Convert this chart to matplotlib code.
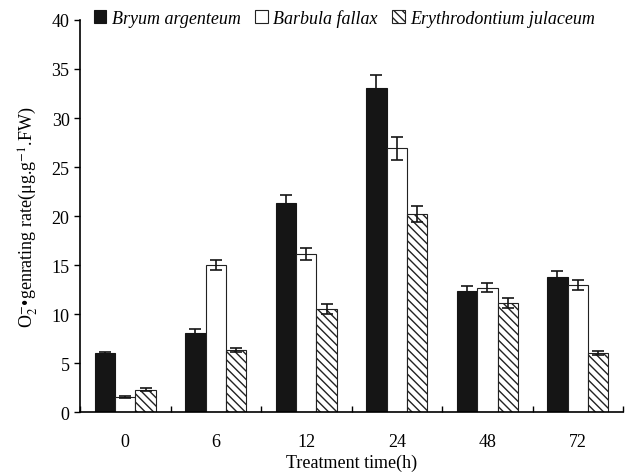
import numpy as np
import matplotlib
matplotlib.use("Agg")
import matplotlib.pyplot as plt

plt.rcParams['font.family'] = ['Liberation Serif', 'DejaVu Serif']
plt.rcParams['mathtext.fontset'] = 'stix'
plt.rcParams['hatch.linewidth'] = 1.0

# data
times = ["0", "6", "12", "24", "48", "72"]
bryum = [6.0, 8.1, 21.3, 33.1, 12.4, 13.8]
bryum_err = [0.15, 0.4, 0.8, 1.3, 0.5, 0.6]
barbula = [1.5, 15.0, 16.1, 26.9, 12.7, 13.0]
barbula_err = [0.1, 0.5, 0.6, 1.2, 0.5, 0.5]
erythro = [2.3, 6.3, 10.5, 20.2, 11.1, 6.0]
erythro_err = [0.15, 0.2, 0.5, 0.8, 0.5, 0.2]
species = ["Bryum argenteum", "Barbula fallax", "Erythrodontium julaceum"]

fig = plt.figure(figsize=(6.25, 4.77), dpi=100)
ax = fig.add_axes([0.128, 0.134, 0.869, 0.822])

x = np.arange(len(times))
w = 0.225
err_kw = dict(ecolor='#151515', elinewidth=1.2, capsize=4, capthick=1.2)

ax.bar(x - w, bryum, w, yerr=bryum_err, color='#151515', edgecolor='#151515',
       linewidth=0.8, label=species[0], error_kw=err_kw)
ax.bar(x, barbula, w, yerr=barbula_err, color='white', edgecolor='#222222',
       linewidth=0.8, label=species[1], error_kw=err_kw)
ax.bar(x + w, erythro, w, yerr=erythro_err, color='white', edgecolor='#222222',
       hatch='\\\\\\\\', linewidth=0.8, label=species[2], error_kw=err_kw)

ax.set_xlim(-0.5, 5.5)
ax.set_ylim(0, 40)
ax.set_yticks(np.arange(0, 41, 5))
ax.set_xticks(x)
ax.set_xticklabels(times)
ax.set_xticks(np.arange(-0.5, 5.6, 1), minor=True)
ax.tick_params(axis='x', which='major', length=0, pad=15, labelsize=13)
ax.tick_params(axis='x', which='minor', direction='in', length=4, width=1)
ax.tick_params(axis='y', direction='out', length=4, width=1, labelsize=13)

for s in ['top', 'right']:
    ax.spines[s].set_visible(False)
for s in ['left', 'bottom']:
    ax.spines[s].set_linewidth(1.2)

ax.set_xlabel("Treatment time(h)", fontsize=13, labelpad=3)
ax.set_ylabel(r"O$_2^{-}$•genrating rate(μg.g$^{-1}$.FW)", fontsize=13, labelpad=8)

leg = ax.legend(loc='upper left', bbox_to_anchor=(-0.005, 1.07), ncol=3, frameon=False,
                handlelength=0.7, handleheight=0.7, handletextpad=0.3, columnspacing=0.8,
                prop={'style': 'italic', 'size': 13})

fig.savefig("out.png", dpi=100)
